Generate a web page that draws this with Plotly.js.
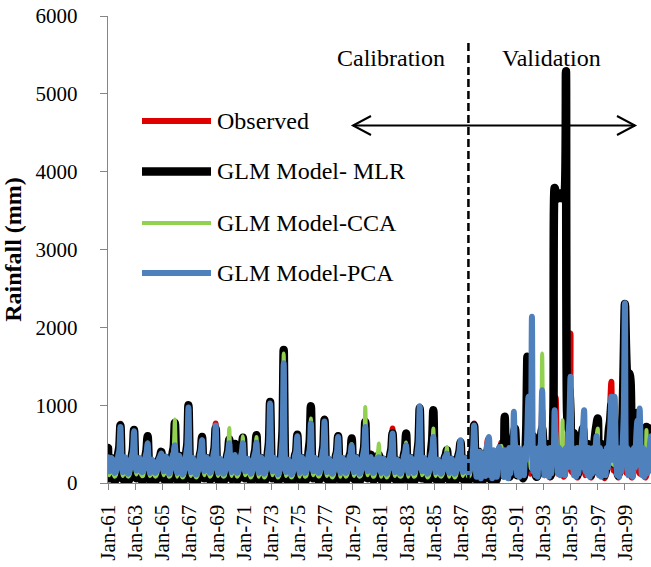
<!DOCTYPE html>
<html>
<head>
<meta charset="utf-8">
<script src="https://cdn.plot.ly/plotly-3.0.1.min.js"></script>
<style>
  html, body { margin: 0; padding: 0; background: #fff; }
  #chart { width: 651px; height: 567px; }
  .js-line { stroke-linejoin: round; stroke-linecap: round; }
</style>
</head>
<body>
<div id="chart"></div>
<script>
// Monthly series, Jan-1961 .. Dec-2000 (one row per year, Jan..Dec)
const startYear = 1961;
const endYear = 2000;

const observed = [
  300,110,140,290,250,90,60,80,170,360,470,760,
  240,80,120,310,230,70,50,90,150,330,420,690,
  260,100,150,270,280,110,70,70,180,300,380,560,
  230,70,110,250,210,80,60,90,140,280,320,360,
  180,90,130,300,260,100,50,80,190,340,400,550,
  270,60,140,330,240,70,40,70,160,360,480,940,
  320,80,120,280,220,60,20,60,150,340,410,600,
  210,90,150,300,270,110,70,90,170,350,440,765,
  250,70,130,260,240,90,60,80,160,320,390,520,
  210,80,140,290,330,120,70,90,150,310,380,480,
  220,90,120,270,250,100,60,70,160,330,400,500,
  200,70,130,310,260,80,50,80,170,360,500,1000,
  350,90,140,290,240,90,50,70,160,380,620,1580,
  400,80,120,260,230,80,40,70,150,330,380,560,
  220,70,130,300,270,100,60,80,170,360,450,800,
  260,90,140,280,250,90,60,90,160,350,460,828,
  270,80,120,270,230,80,50,80,150,330,390,560,
  220,70,130,280,260,100,60,90,160,320,360,450,
  190,80,140,300,250,90,60,80,170,350,430,700,
  250,90,150,300,380,120,70,80,150,300,340,380,
  180,70,130,280,250,90,50,80,160,350,430,700,
  260,80,120,270,240,80,60,70,150,330,380,500,
  210,70,140,300,260,100,60,80,170,380,520,980,
  330,90,130,280,250,90,50,80,160,350,420,600,
  240,80,120,260,230,80,60,90,150,300,330,380,
  190,70,130,280,250,90,50,80,160,320,390,500,
  220,80,140,290,260,100,60,80,170,360,440,764,
  300,90,150,320,280,110,70,90,180,350,420,560,
  260,100,140,300,270,100,60,90,170,340,400,520,
  230,90,160,350,300,120,80,100,190,380,450,700,
  280,100,150,330,290,110,70,90,180,400,520,900,
  350,120,170,360,300,120,80,100,190,420,540,950,
  300,100,160,340,310,110,70,90,200,450,600,1100,
  380,120,170,360,320,130,80,100,220,500,700,900,
  1920,140,160,330,300,120,70,90,190,400,480,700,
  260,100,150,320,290,110,70,90,180,380,460,760,
  828,150,140,300,280,100,60,90,170,420,560,1000,
  1300,300,160,330,300,120,70,100,190,380,460,780,
  680,130,150,320,290,110,70,90,180,400,520,900,
  500,120,160,330,300,120,70,100,190,370,440,600
];

const glmMLR = [
  450,60,110,320,270,60,30,50,150,370,460,740,
  250,50,100,300,240,50,20,60,140,340,430,680,
  240,60,120,290,290,70,30,40,160,330,420,600,
  260,40,90,270,220,50,30,60,130,300,340,400,
  200,50,110,320,280,60,20,50,170,380,460,770,
  310,40,120,350,250,40,10,40,150,380,500,1000,
  330,50,100,300,230,40,10,40,140,350,420,590,
  220,60,130,320,280,70,40,60,160,360,450,700,
  240,40,110,280,250,60,30,50,150,340,410,560,
  220,50,120,300,500,80,40,60,140,330,400,580,
  230,60,100,290,260,60,30,40,150,350,430,614,
  210,40,110,320,270,50,20,50,160,380,520,1040,
  370,60,120,300,250,60,20,40,150,400,680,1708,
  420,50,100,280,240,50,20,40,140,350,400,620,
  240,40,110,320,280,70,30,50,160,400,540,987,
  290,60,120,300,260,60,30,60,150,360,470,810,
  280,50,100,290,240,50,20,50,140,340,400,600,
  230,40,110,300,270,70,30,60,150,340,390,571,
  210,50,120,320,260,60,30,50,160,370,460,785,
  270,60,130,310,360,80,40,50,140,310,330,360,
  190,40,110,300,260,60,20,50,150,360,440,640,
  280,50,100,290,250,50,30,40,140,350,420,635,
  220,40,120,320,270,70,30,50,160,390,530,960,
  350,60,110,300,260,60,20,50,150,400,560,935,
  280,50,100,280,240,50,30,60,140,320,360,420,
  200,40,110,300,260,60,20,50,150,340,400,520,
  230,50,120,310,270,70,30,50,160,370,450,740,
  300,40,120,400,280,50,20,50,160,330,380,420,
  230,50,110,300,260,60,30,50,150,330,420,470,
  300,100,850,400,300,120,80,100,200,400,600,700,
  420,100,150,400,350,120,60,90,300,700,1622,600,
  500,200,250,600,450,150,80,100,250,500,600,700,
  500,150,200,500,400,150,90,120,400,1000,3790,3720,
  3650,3700,3680,3720,3660,3700,3680,3750,5290,900,700,1200,
  900,300,250,640,400,200,100,150,300,500,600,700,
  500,200,250,500,400,150,100,150,300,500,650,750,
  830,250,200,500,400,150,100,150,300,500,700,800,
  1000,400,250,500,400,200,100,150,300,600,900,1600,
  2300,1700,1400,1350,1408,1300,500,200,300,500,700,900,
  700,300,250,500,400,300,200,720,400,600,700,680
];

const glmCCA = [
  300,100,140,300,270,110,80,100,180,340,420,700,
  230,90,130,290,250,100,80,100,170,320,400,640,
  250,110,150,280,290,120,90,90,190,310,380,520,
  240,90,120,260,230,100,80,100,160,290,330,370,
  200,100,140,310,270,110,80,90,190,360,450,815,
  300,80,150,330,250,90,70,90,170,360,470,950,
  310,90,130,290,240,90,70,90,160,340,400,560,
  220,100,150,300,270,120,80,100,180,350,430,720,
  250,90,140,280,250,100,80,90,170,350,430,708,
  260,90,150,290,320,120,80,100,160,330,400,600,
  240,100,130,280,260,110,70,90,170,340,400,590,
  210,80,140,300,270,100,70,90,180,360,480,980,
  360,100,150,290,250,100,70,90,170,380,600,1665,
  390,90,130,270,240,90,70,90,160,340,380,580,
  230,80,140,300,270,110,80,90,180,350,440,828,
  270,100,150,290,260,100,80,100,170,350,440,780,
  270,90,130,280,240,90,70,90,160,330,380,560,
  220,80,140,290,260,110,80,100,170,320,360,500,
  210,90,150,310,260,100,80,90,180,370,480,978,
  300,100,150,300,340,120,80,90,160,320,380,506,
  220,80,140,290,260,100,70,90,170,340,410,600,
  250,90,130,280,250,90,80,90,160,330,370,520,
  210,80,150,300,270,110,80,90,180,370,500,940,
  330,100,140,290,260,100,70,90,170,350,430,700,
  250,90,130,270,240,90,80,100,160,320,360,463,
  210,80,140,290,260,100,70,90,170,320,380,480,
  220,90,150,300,270,110,80,90,180,350,420,700,
  280,120,200,350,300,150,100,120,200,330,380,450,
  300,100,180,380,320,130,100,120,220,350,420,480,
  350,150,200,400,330,150,100,130,250,380,450,550,
  320,150,220,420,350,160,110,150,260,400,500,600,
  400,180,250,450,380,170,120,150,300,500,700,1665,
  500,200,250,450,380,170,120,150,300,450,600,700,
  450,200,250,420,400,807,150,200,300,450,550,650,
  500,200,220,400,350,150,100,150,250,400,450,550,
  450,180,220,400,350,150,100,150,250,380,450,600,
  700,200,220,400,350,150,100,150,260,400,480,650,
  650,250,230,420,360,160,110,150,260,400,480,650,
  700,250,250,420,380,170,120,160,270,420,500,620,
  500,220,230,400,350,160,110,680,270,400,450,550
];

const glmPCA = [
  330,150,180,320,300,160,130,150,220,350,420,720,
  260,140,170,330,290,150,120,160,210,340,410,665,
  280,160,190,310,320,170,140,150,230,330,390,507,
  250,130,160,300,270,150,130,160,200,310,340,378,
  240,150,180,340,300,160,120,150,230,350,390,485,
  270,130,190,350,280,140,110,140,210,370,480,970,
  320,140,170,320,270,130,110,140,200,350,420,550,
  240,150,190,330,300,170,130,150,220,360,440,740,
  270,130,180,310,280,150,120,140,210,340,400,510,
  240,140,190,320,360,170,130,150,200,330,390,510,
  250,150,170,310,290,160,120,140,210,340,400,517,
  230,130,180,330,300,150,120,150,220,370,500,1022,
  360,150,190,320,280,150,110,140,210,380,600,1537,
  380,140,170,300,270,140,110,140,200,350,400,600,
  250,130,180,330,300,160,130,150,220,360,440,764,
  280,150,190,320,290,150,130,160,210,360,450,789,
  280,140,170,310,270,140,120,150,200,340,400,592,
  250,130,180,320,290,160,130,150,210,330,370,485,
  230,140,190,330,290,150,120,140,220,360,440,720,
  280,150,190,320,330,170,130,140,200,310,320,330,
  230,130,180,310,290,150,120,150,210,350,420,635,
  270,140,170,300,280,140,120,140,200,340,390,485,
  230,130,190,330,300,160,130,150,220,380,520,987,
  330,150,180,320,290,150,120,150,210,350,420,592,
  260,140,170,300,270,140,120,150,200,320,350,378,
  230,130,180,310,290,150,120,140,210,340,400,550,
  240,140,190,320,300,160,130,150,220,360,430,740,
  420,80,350,150,400,60,300,100,380,90,450,520,
  592,100,380,60,420,120,350,80,400,463,300,420,
  350,80,420,100,380,60,450,120,350,200,914,500,
  400,100,450,80,420,150,380,100,450,300,700,1107,
  1000,400,2137,150,450,100,400,80,450,200,600,1193,
  500,100,450,150,400,80,450,120,400,300,935,500,
  400,120,450,100,420,150,380,100,450,200,600,800,
  1364,200,450,100,400,80,450,120,380,200,500,700,
  935,150,420,100,450,80,400,120,450,150,420,600,
  420,100,450,80,400,150,380,100,450,200,500,700,
  1107,300,450,1107,400,100,450,80,420,150,500,900,
  2309,300,450,100,420,150,400,80,450,200,600,800,
  500,957,400,100,450,80,420,120,400,150,500,600
];

const seriesNames = ['Observed', 'GLM Model- MLR', 'GLM Model-CCA', 'GLM Model-PCA'];
const seriesColors = ['#E00000', '#000000', '#92D050', '#4F81BD'];
const seriesWidths = [6, 8.5, 4, 6];
const yTicks = [0, 1000, 2000, 3000, 4000, 5000, 6000];

// month dates (categories of the x axis)
const months = [];
for (let y = startYear; y <= endYear; y++) {
  for (let m = 1; m <= 12; m++) {
    months.push(y + '-' + String(m).padStart(2, '0') + '-01');
  }
}

const allSeries = [observed, glmMLR, glmCCA, glmPCA];
const traces = allSeries.map((vals, i) => ({
  type: 'scatter',
  mode: 'lines',
  x: months,
  y: vals,
  name: seriesNames[i],
  line: { color: seriesColors[i], width: seriesWidths[i], shape: 'spline', smoothing: 0.8 },
  hoverinfo: 'x+y+name',
  showlegend: false
}));

// plot-area geometry helpers (for annotation placement only)
const W = 651, H = 567;
const M = { l: 108, r: 0, t: 16, b: 84 };
const PW = W - M.l - M.r, PH = H - M.t - M.b;
const px = x => (x - M.l) / PW;
const py = y => (H - M.b - y) / PH;

const FONT = 'Liberation Serif, Times New Roman, serif';
const TXT = 24;

const shapes = [];
const annotations = [];

// calibration / validation divider
shapes.push({
  type: 'line', xref: 'x', yref: 'paper',
  x0: '1987-07-01', x1: '1987-07-01', y0: 0, y1: py(42),
  line: { color: '#000', width: 2.5, dash: '8px,4px' }
});
// double-headed arrow
shapes.push({ type: 'line', xref: 'paper', yref: 'paper',
  x0: px(353), x1: px(635), y0: py(125.5), y1: py(125.5), line: { color: '#000', width: 2 } });
shapes.push({ type: 'path', xref: 'paper', yref: 'paper',
  path: `M ${px(371)} ${py(116)} L ${px(353)} ${py(125.5)} L ${px(371)} ${py(135)}`,
  line: { color: '#000', width: 2 } });
shapes.push({ type: 'path', xref: 'paper', yref: 'paper',
  path: `M ${px(617)} ${py(116)} L ${px(635)} ${py(125.5)} L ${px(617)} ${py(135)}`,
  line: { color: '#000', width: 2 } });

annotations.push({ text: 'Calibration', xref: 'paper', yref: 'paper', x: px(391), y: py(58),
  xanchor: 'center', yanchor: 'middle', showarrow: false, font: { family: FONT, size: TXT, color: '#000' } });
annotations.push({ text: 'Validation', xref: 'paper', yref: 'paper', x: px(551), y: py(58),
  xanchor: 'center', yanchor: 'middle', showarrow: false, font: { family: FONT, size: TXT, color: '#000' } });

// custom legend
const legendY = [121, 171.5, 223, 273];
seriesNames.forEach((name, i) => {
  shapes.push({ type: 'line', xref: 'paper', yref: 'paper',
    x0: px(142), x1: px(211), y0: py(legendY[i]), y1: py(legendY[i]),
    line: { color: seriesColors[i], width: seriesWidths[i] } });
  annotations.push({ text: name, xref: 'paper', yref: 'paper', x: px(215), y: py(legendY[i]),
    xanchor: 'left', yanchor: 'middle', showarrow: false,
    font: { family: FONT, size: TXT, color: '#000' } });
});

const layout = {
  width: W, height: H,
  margin: M,
  paper_bgcolor: '#fff', plot_bgcolor: '#fff',
  font: { family: FONT, color: '#000', size: 21 },
  showlegend: false,
  xaxis: {
    type: 'date',
    range: ['1961-01-01', '2000-12-01'],
    tick0: '1961-01-01', dtick: 'M24', tickformat: '%b-%y',
    tickangle: -90,
    ticks: 'outside', ticklen: 6, tickcolor: '#868686', tickwidth: 1,
    showline: true, linecolor: '#868686', linewidth: 1.3,
    showgrid: false, zeroline: false,
    ticklabelstandoff: 6,
    tickfont: { family: FONT, size: 21, color: '#000' }
  },
  yaxis: {
    range: [0, 6000],
    tickvals: yTicks,
    ticks: 'outside', ticklen: 7, tickcolor: '#868686', tickwidth: 1,
    showline: true, linecolor: '#868686', linewidth: 1.3,
    showgrid: false, zeroline: false,
    ticklabelstandoff: 18,
    tickfont: { family: FONT, size: 21, color: '#000' },
    title: { text: '<b>Rainfall (mm)</b>', standoff: 8, font: { family: FONT, size: 24, color: '#000' } }
  },
  shapes: shapes,
  annotations: annotations
};

Plotly.newPlot('chart', traces, layout, { displayModeBar: false, staticPlot: true });
</script>
</body>
</html>
